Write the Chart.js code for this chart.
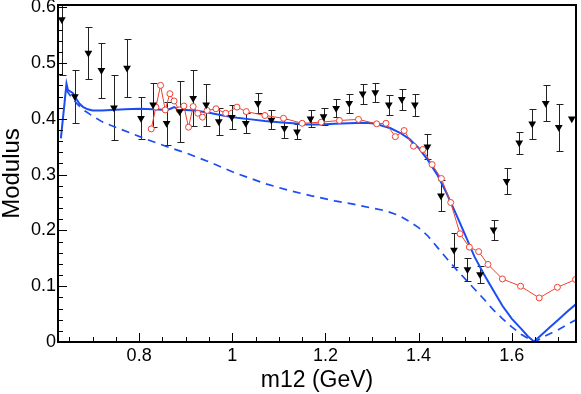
<!DOCTYPE html>
<html lang="en">
<head>
  <meta charset="UTF-8">
  <script src="https://cdn.jsdelivr.net/npm/chart.js"></script>
  <style>
    html, body { margin: 0; padding: 0; background: #fff; }
  </style>
</head>
<body>
  <canvas id="modChart" width="581" height="394"></canvas>

  <script>
    // tick labels
    const xTickVals = [0.8, 1, 1.2, 1.4, 1.6];
    const yTickVals = [0, 0.1, 0.2, 0.3, 0.4, 0.5, 0.6];

    // measured points (black triangles with errors)
    const measX = [0.634, 0.662, 0.691, 0.719, 0.746, 0.774, 0.804, 0.830, 0.859, 0.887,
                   0.916, 0.944, 0.971, 0.999, 1.029, 1.055, 1.084, 1.112, 1.139, 1.168,
                   1.196, 1.223, 1.251, 1.280, 1.307, 1.336, 1.364, 1.392, 1.419, 1.448,
                   1.476, 1.505, 1.532, 1.561, 1.589, 1.616, 1.644, 1.673, 1.701, 1.729];
    const measY = [0.578, 0.440, 0.518, 0.487, 0.420, 0.491, 0.401, 0.425, 0.392, 0.413,
                   0.437, 0.425, 0.395, 0.403, 0.392, 0.428, 0.398, 0.383, 0.377, 0.400,
                   0.404, 0.419, 0.428, 0.445, 0.447, 0.425, 0.435, 0.425, 0.350, 0.262,
                   0.165, 0.130, 0.121, 0.201, 0.288, 0.357, 0.391, 0.428, 0.385, 0.400];
    const measErr = [0.100, 0.048, 0.046, 0.049, 0.058, 0.052, 0.038, 0.039, 0.039, 0.055,
                     0.050, 0.037, 0.024, 0.021, 0.018, 0.018, 0.017, 0.017, 0.014, 0.015,
                     0.015, 0.016, 0.017, 0.018, 0.017, 0.018, 0.019, 0.020, 0.022, 0.028,
                     0.030, 0.020, 0.016, 0.018, 0.023, 0.020, 0.027, 0.032, 0.042, 0];

    // red open circles
    const redX = [0.826, 0.836, 0.846, 0.856, 0.866, 0.875, 0.886, 0.896, 0.906, 0.916,
                  0.926, 0.936, 0.946, 0.965, 0.986, 1.010, 1.030, 1.070, 1.110, 1.150,
                  1.191, 1.230, 1.271, 1.310, 1.330, 1.350, 1.369, 1.389, 1.409, 1.429,
                  1.449, 1.469, 1.489, 1.509, 1.529, 1.549, 1.580, 1.619, 1.659, 1.698, 1.737];
    const redY = [0.382, 0.421, 0.460, 0.416, 0.445, 0.432, 0.416, 0.423, 0.385, 0.422,
                  0.410, 0.403, 0.415, 0.418, 0.410, 0.421, 0.413, 0.406, 0.401, 0.392,
                  0.394, 0.397, 0.399, 0.391, 0.392, 0.368, 0.379, 0.351, 0.345, 0.318,
                  0.293, 0.250, 0.194, 0.170, 0.162, 0.139, 0.113, 0.100, 0.079, 0.098, 0.112];

    // blue solid curve
    const solidX = [0.632, 0.640, 0.644, 0.647, 0.652, 0.658, 0.665, 0.672, 0.680, 0.690,
                    0.700, 0.720, 0.740, 0.770, 0.800, 0.830, 0.860, 0.870, 0.875, 0.885,
                    0.900, 0.920, 0.950, 0.980, 1.010, 1.040, 1.070, 1.100, 1.130, 1.160,
                    1.190, 1.220, 1.250, 1.280, 1.300, 1.320, 1.340, 1.360, 1.380, 1.400,
                    1.420, 1.440, 1.460, 1.480, 1.500, 1.520, 1.540, 1.560, 1.580, 1.600,
                    1.620, 1.635, 1.648, 1.660, 1.680, 1.700, 1.720, 1.738];
    const solidY = [0.365, 0.430, 0.463, 0.452, 0.449, 0.446, 0.436, 0.427, 0.421, 0.417,
                    0.415, 0.415, 0.416, 0.417, 0.418, 0.417, 0.416, 0.419, 0.421, 0.417,
                    0.416, 0.415, 0.411, 0.406, 0.402, 0.399, 0.396, 0.394, 0.392, 0.390,
                    0.390, 0.391, 0.392, 0.393, 0.392, 0.388, 0.383, 0.375, 0.364, 0.348,
                    0.326, 0.300, 0.267, 0.230, 0.192, 0.153, 0.122, 0.093, 0.065, 0.042,
                    0.024, 0.010, 0.001, 0.010, 0.025, 0.040, 0.055, 0.068];

    // blue dashed curve
    const dashX = [0.643, 0.650, 0.660, 0.670, 0.684, 0.700, 0.720, 0.740, 0.780, 0.820,
                   0.860, 0.900, 0.950, 1.000, 1.030, 1.070, 1.120, 1.170, 1.220, 1.260,
                   1.300, 1.330, 1.360, 1.380, 1.400, 1.420, 1.440, 1.460, 1.480, 1.500,
                   1.520, 1.540, 1.560, 1.580, 1.600, 1.620, 1.640, 1.650, 1.670, 1.700, 1.738];
    const dashY = [0.452, 0.444, 0.433, 0.424, 0.414, 0.405, 0.395, 0.388, 0.375, 0.362,
                   0.350, 0.339, 0.323, 0.305, 0.296, 0.284, 0.272, 0.262, 0.253, 0.247,
                   0.240, 0.235, 0.226, 0.216, 0.205, 0.190, 0.170, 0.150, 0.131, 0.113,
                   0.095, 0.077, 0.058, 0.042, 0.027, 0.014, 0.004, 0.000, 0.010, 0.022, 0.040];

    const FONT = "'Liberation Sans', Arial, Helvetica, sans-serif";
    const BLUE = '#1b4df2';
    const RED = '#f0412f';

    const pts = (xs, ys) => xs.map((x, i) => ({ x: x, y: ys[i] }));

    const errorBars = {
      id: 'errorBars',
      beforeDatasetsDraw(chart) {
        const { ctx, chartArea: a, scales: { x, y } } = chart;
        ctx.save();
        ctx.beginPath();
        ctx.rect(a.left, a.top, a.width, a.height);
        ctx.clip();
        ctx.strokeStyle = '#222';
        ctx.lineWidth = 1;
        measX.forEach((mx, i) => {
          if (!measErr[i]) return;
          const px = Math.round(x.getPixelForValue(mx)) + 0.5;
          const y1 = Math.round(y.getPixelForValue(measY[i] + measErr[i])) + 0.5;
          const y2 = Math.round(y.getPixelForValue(measY[i] - measErr[i])) + 0.5;
          ctx.beginPath();
          ctx.moveTo(px, y1); ctx.lineTo(px, y2);
          ctx.moveTo(px - 3, y1); ctx.lineTo(px + 4, y1);
          ctx.moveTo(px - 3, y2); ctx.lineTo(px + 4, y2);
          ctx.stroke();
        });
        ctx.restore();
      }
    };

    // frame plus inward ticks, ROOT style
    const frameTicks = {
      id: 'frameTicks',
      afterDraw(chart) {
        const { ctx, chartArea: a, scales: { x, y } } = chart;
        ctx.save();
        ctx.strokeStyle = '#000';
        ctx.lineWidth = 1;
        ctx.beginPath();
        for (let i = 13; i <= 34; i++) {
          const px = Math.round(x.getPixelForValue(i * 0.05)) + 0.5;
          const len = i % 4 === 0 ? 9 : 5;
          ctx.moveTo(px, a.bottom);
          ctx.lineTo(px, a.bottom - len);
        }
        for (let i = 1; i <= 30; i++) {
          const py = Math.round(y.getPixelForValue(i * 0.02)) + 0.5;
          const len = i % 5 === 0 ? 9 : 5;
          ctx.moveTo(a.left, py);
          ctx.lineTo(a.left + len, py);
        }
        ctx.stroke();
        ctx.lineWidth = 2;
        ctx.strokeRect(a.left, a.top, a.right - a.left, a.bottom - a.top);
        ctx.restore();
      }
    };

    new Chart(document.getElementById('modChart'), {
      type: 'scatter',
      data: {
        datasets: [
          {
            data: pts(dashX, dashY),
            showLine: true,
            borderColor: BLUE,
            borderWidth: 1.7,
            borderDash: [8, 6],
            pointRadius: 0,
            order: 4
          },
          {
            data: pts(solidX, solidY),
            showLine: true,
            borderColor: BLUE,
            borderWidth: 2,
            pointRadius: 0,
            order: 3
          },
          {
            data: pts(redX, redY),
            showLine: true,
            borderColor: RED,
            borderWidth: 1,
            pointRadius: 3,
            pointBorderWidth: 1,
            pointBorderColor: RED,
            pointBackgroundColor: '#fff',
            order: 2
          },
          {
            data: pts(measX, measY),
            showLine: false,
            pointStyle: 'triangle',
            rotation: 180,
            pointRadius: 4.5,
            pointBackgroundColor: '#000',
            pointBorderColor: '#000',
            pointBorderWidth: 0,
            order: 1
          }
        ]
      },
      options: {
        responsive: false,
        animation: false,
        devicePixelRatio: 1,
        layout: { padding: { left: 0, top: 5, right: 4, bottom: 0 } },
        plugins: {
          legend: { display: false },
          tooltip: { enabled: false }
        },
        scales: {
          x: {
            type: 'linear',
            min: 0.6258,
            max: 1.738,
            grid: { display: false, drawTicks: false },
            border: { display: false },
            afterBuildTicks: s => { s.ticks = xTickVals.map(v => ({ value: v })); },
            afterFit: s => {
              s.height = 52;
              s.paddingLeft = 0; s.paddingRight = 0;
            },
            ticks: {
              color: '#000',
              padding: 3,
              maxRotation: 0,
              autoSkip: false,
              font: { family: FONT, size: 18 },
              callback: v => String(v)
            },
            title: {
              display: true,
              text: 'm12 (GeV)',
              color: '#000',
              font: { family: FONT, size: 23, lineHeight: 1 },
              padding: { top: 0, bottom: 2 }
            }
          },
          y: {
            min: 0,
            max: 0.604,
            grid: { display: false, drawTicks: false },
            border: { display: false },
            afterBuildTicks: s => { s.ticks = yTickVals.map(v => ({ value: v })); },
            afterFit: s => {
              s.width = 58;
              s.paddingTop = 0; s.paddingBottom = 0;
            },
            ticks: {
              color: '#000',
              padding: 2,
              autoSkip: false,
              font: { family: FONT, size: 18 },
              callback: v => String(v)
            },
            title: {
              display: true,
              text: 'Modulus',
              color: '#000',
              font: { family: FONT, size: 24, lineHeight: 1 },
              padding: 0
            }
          }
        }
      },
      plugins: [errorBars, frameTicks]
    });
  </script>
</body>
</html>
